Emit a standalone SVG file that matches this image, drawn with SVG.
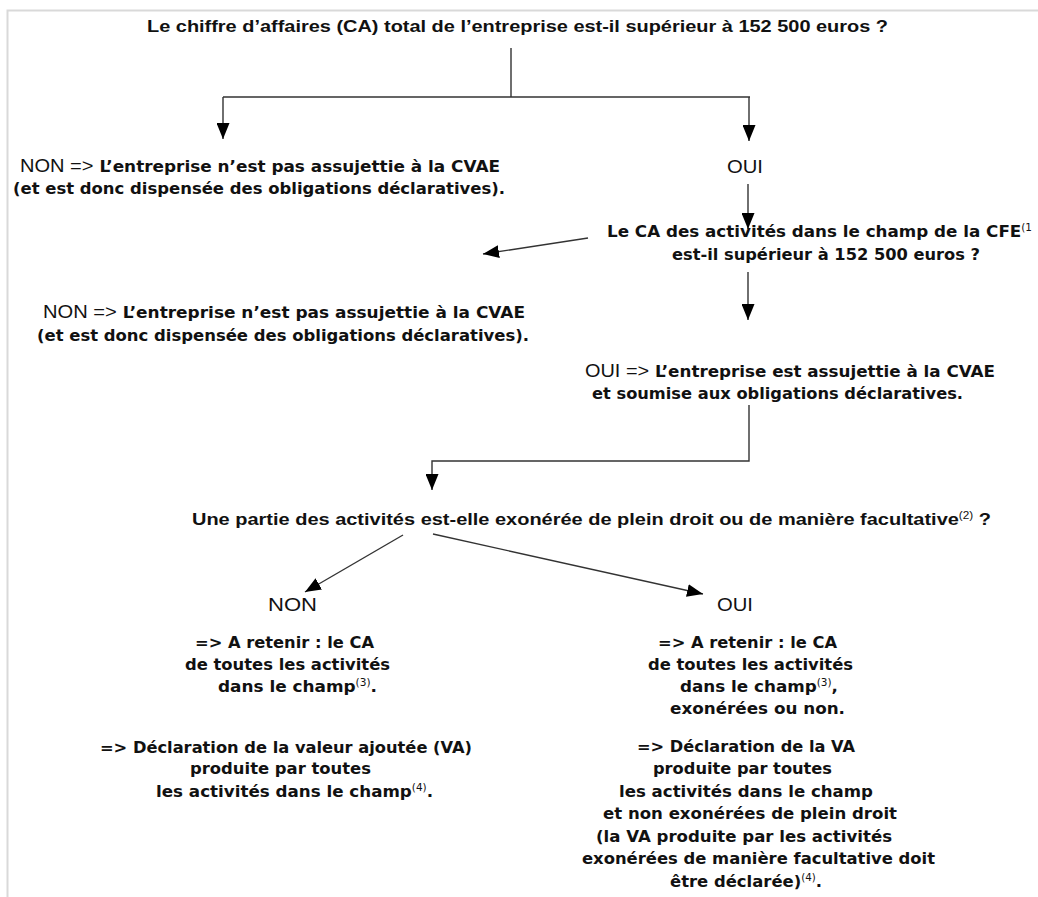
<svg xmlns="http://www.w3.org/2000/svg" width="1038" height="897" viewBox="0 0 1038 897">
<style>
.t{font-family:"DejaVu Sans","Verdana",sans-serif;font-size:16px;font-weight:bold;fill:#111}
.h{font-family:"Liberation Sans","Arial",sans-serif;font-size:17px;font-weight:bold;fill:#111}
.n{font-family:"Liberation Sans","Arial",sans-serif;font-size:19px;font-weight:normal}
.s{font-size:10px;font-weight:normal}
.c{fill:none;stroke:#333;stroke-width:1.4}
.b{fill:none;stroke:#d9d9d9;stroke-width:2}
</style>
<defs>
<marker id="ah" viewBox="0 0 16 13" refX="16" refY="6.5" markerWidth="16" markerHeight="13" markerUnits="userSpaceOnUse" orient="auto">
<path d="M0,0 L16,6.5 L0,13 z" fill="#000"/>
</marker>
</defs>
<rect width="1038" height="897" fill="#fff"/>
<path class="b" d="M7.5,897 V10.5 H1038"/>
<g id="connectors">
<path class="c" d="M511,48 V97 M223,97 H750"/>
<path class="c" d="M223,97 V139" marker-end="url(#ah)"/>
<path class="c" d="M749,97 V141" marker-end="url(#ah)"/>
<path class="c" d="M748,184 V229" marker-end="url(#ah)"/>
<path class="c" d="M588,238 L483,254" marker-end="url(#ah)"/>
<path class="c" d="M748,272 V320" marker-end="url(#ah)"/>
<path class="c" d="M749,405 V461 H432 V490" marker-end="url(#ah)"/>
<path class="c" d="M403,535 L305,592" marker-end="url(#ah)"/>
<path class="c" d="M433,534 L703,594" marker-end="url(#ah)"/>
</g>
<g id="q1"><text class="h" x="147" y="32" textLength="741" lengthAdjust="spacingAndGlyphs">Le chiffre d’affaires (CA) total de l’entreprise est-il supérieur à 152 500 euros ?</text></g>
<g id="non1">
<text class="t" x="20" y="172" textLength="480" lengthAdjust="spacingAndGlyphs"><tspan class="n">NON =&gt;</tspan> L’entreprise n’est pas assujettie à la CVAE</text>
<text class="t" x="13" y="194" textLength="492" lengthAdjust="spacingAndGlyphs">(et est donc dispensée des obligations déclaratives).</text>
</g>
<g id="oui1"><text class="t n" x="727" y="173" textLength="36" lengthAdjust="spacingAndGlyphs">OUI</text></g>
<g id="q2">
<text class="t" x="607" y="237" textLength="425" lengthAdjust="spacingAndGlyphs">Le CA des activités dans le champ de la CFE<tspan class="s" dy="-6">(1</tspan></text>
<text class="t" x="672" y="260" textLength="308" lengthAdjust="spacingAndGlyphs">est-il supérieur à 152 500 euros ?</text>
</g>
<g id="non2">
<text class="t" x="43" y="318" textLength="482" lengthAdjust="spacingAndGlyphs"><tspan class="n">NON =&gt;</tspan> L’entreprise n’est pas assujettie à la CVAE</text>
<text class="t" x="37" y="341" textLength="492" lengthAdjust="spacingAndGlyphs">(et est donc dispensée des obligations déclaratives).</text>
</g>
<g id="oui2">
<text class="t" x="585" y="377" textLength="410" lengthAdjust="spacingAndGlyphs"><tspan class="n">OUI =&gt;</tspan> L’entreprise est assujettie à la CVAE</text>
<text class="t" x="592" y="399" textLength="371" lengthAdjust="spacingAndGlyphs">et soumise aux obligations déclaratives.</text>
</g>
<g id="q3"><text class="h" x="192" y="525" textLength="799" lengthAdjust="spacingAndGlyphs">Une partie des activités est-elle exonérée de plein droit ou de manière facultative<tspan class="s" dy="-6">(2)</tspan><tspan dy="6"> ?</tspan></text></g>
<g id="non3">
<text class="t n" x="268" y="611" textLength="49" lengthAdjust="spacingAndGlyphs">NON</text>
<text class="t" x="195" y="648" textLength="179" lengthAdjust="spacingAndGlyphs">=&gt; A retenir : le CA</text>
<text class="t" x="185" y="670" textLength="205" lengthAdjust="spacingAndGlyphs">de toutes les activités</text>
<text class="t" x="218" y="692" textLength="159" lengthAdjust="spacingAndGlyphs">dans le champ<tspan class="s" dy="-6">(3)</tspan><tspan dy="6">.</tspan></text>
<text class="t" x="100" y="753" textLength="372" lengthAdjust="spacingAndGlyphs">=&gt; Déclaration de la valeur ajoutée (VA)</text>
<text class="t" x="190" y="774" textLength="181" lengthAdjust="spacingAndGlyphs">produite par toutes</text>
<text class="t" x="156" y="797" textLength="277" lengthAdjust="spacingAndGlyphs">les activités dans le champ<tspan class="s" dy="-6">(4)</tspan><tspan dy="6">.</tspan></text>
</g>
<g id="oui3">
<text class="t n" x="717" y="611" textLength="36" lengthAdjust="spacingAndGlyphs">OUI</text>
<text class="t" x="658" y="648" textLength="179" lengthAdjust="spacingAndGlyphs">=&gt; A retenir : le CA</text>
<text class="t" x="648" y="670" textLength="205" lengthAdjust="spacingAndGlyphs">de toutes les activités</text>
<text class="t" x="680" y="692" textLength="158" lengthAdjust="spacingAndGlyphs">dans le champ<tspan class="s" dy="-6">(3)</tspan><tspan dy="6">,</tspan></text>
<text class="t" x="670" y="714" textLength="175" lengthAdjust="spacingAndGlyphs">exonérées ou non.</text>
<text class="t" x="637" y="752" textLength="218" lengthAdjust="spacingAndGlyphs">=&gt; Déclaration de la VA</text>
<text class="t" x="653" y="774" textLength="179" lengthAdjust="spacingAndGlyphs">produite par toutes</text>
<text class="t" x="619" y="797" textLength="254" lengthAdjust="spacingAndGlyphs">les activités dans le champ</text>
<text class="t" x="603" y="819" textLength="294" lengthAdjust="spacingAndGlyphs">et non exonérées de plein droit</text>
<text class="t" x="596" y="842" textLength="296" lengthAdjust="spacingAndGlyphs">(la VA produite par les activités</text>
<text class="t" x="582" y="864" textLength="353" lengthAdjust="spacingAndGlyphs">exonérées de manière facultative doit</text>
<text class="t" x="670" y="887" textLength="152" lengthAdjust="spacingAndGlyphs">être déclarée)<tspan class="s" dy="-6">(4)</tspan><tspan dy="6">.</tspan></text>
</g>
</svg>
